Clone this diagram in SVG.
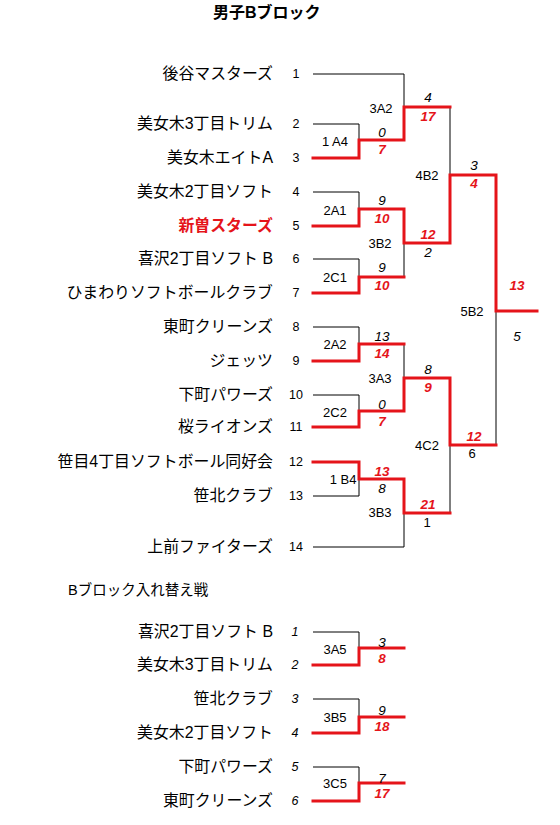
<svg xmlns="http://www.w3.org/2000/svg" width="560" height="825" viewBox="0 0 560 825">
<style>
text{font-family:"Liberation Sans","Noto Sans CJK JP",sans-serif;fill:#000}
.ttl{font-size:16px;font-weight:bold}
.sub{font-size:14.5px}
.nm{font-size:15.9px;text-anchor:end}
.win{fill:#e5141a;font-weight:bold}
.no{font-size:12.5px;text-anchor:middle}
.noi{font-size:12.5px;text-anchor:middle;font-style:italic}
.mt{font-size:13px;text-anchor:middle}
.sc{font-size:13.5px;text-anchor:middle;font-style:italic}
.sr{font-size:13.5px;text-anchor:middle;font-style:italic;font-weight:bold;fill:#e5141a}
.k{fill:none;stroke:#000;stroke-width:1}
.r{fill:none;stroke:#e5141a;stroke-width:3;stroke-linejoin:miter;stroke-linecap:square}
</style>
<rect width="560" height="825" fill="#fff"/>
<text class="ttl" x="213" y="18">男子Bブロック</text>

<g id="connectors">
<path class="k" d="M313,74H404V107M313,124H359V140M313,192H359V209M313,259H359V277M404,243V277M313,327H359V344M404,344V378M313,395H359V411M450,107V175M496,311V445M450,445V513M313,496H359V479M313,547H404V513M313,632H359V648M313,699H359V717M313,767H359V783"/>
<path class="r" d="M313,158H359V140H404V107H450"/>
<path class="r" d="M313,226H359V209H404V243H450V175H496V311H537"/>
<path class="r" d="M313,293H359V277H404"/>
<path class="r" d="M313,361H359V344H404"/>
<path class="r" d="M313,427H359V411H404V378H450V445H496"/>
<path class="r" d="M313,462H359V479H404V513H450"/>
<path class="r" d="M313,665H359V648H404"/>
<path class="r" d="M313,733H359V717H404"/>
<path class="r" d="M313,801H359V783H404"/>
</g>

<g id="team1"><text class="nm" x="273" y="79">後谷マスターズ</text><text class="no" x="296" y="78">1</text></g>
<g id="team2"><text class="nm" x="273" y="129">美女木3丁目トリム</text><text class="no" x="296" y="128">2</text></g>
<g id="team3"><text class="nm" x="273" y="163">美女木エイトA</text><text class="no" x="296" y="162">3</text></g>
<g id="team4"><text class="nm" x="273" y="197">美女木2丁目ソフト</text><text class="no" x="296" y="196">4</text></g>
<g id="team5"><text class="nm win" x="273" y="231">新曽スターズ</text><text class="no" x="296" y="230">5</text></g>
<g id="team6"><text class="nm" x="273" y="264">喜沢2丁目ソフト B</text><text class="no" x="296" y="263">6</text></g>
<g id="team7"><text class="nm" x="273" y="298">ひまわりソフトボールクラブ</text><text class="no" x="296" y="297">7</text></g>
<g id="team8"><text class="nm" x="273" y="332">東町クリーンズ</text><text class="no" x="296" y="331">8</text></g>
<g id="team9"><text class="nm" x="273" y="366">ジェッツ</text><text class="no" x="296" y="365">9</text></g>
<g id="team10"><text class="nm" x="273" y="400">下町パワーズ</text><text class="no" x="296" y="399">10</text></g>
<g id="team11"><text class="nm" x="273" y="432">桜ライオンズ</text><text class="no" x="296" y="431">11</text></g>
<g id="team12"><text class="nm" x="273" y="467">笹目4丁目ソフトボール同好会</text><text class="no" x="296" y="466">12</text></g>
<g id="team13"><text class="nm" x="273" y="501">笹北クラブ</text><text class="no" x="296" y="500">13</text></g>
<g id="team14"><text class="nm" x="273" y="552">上前ファイターズ</text><text class="no" x="296" y="551">14</text></g>

<g id="m1A4"><text class="mt" x="335" y="146">1 A4</text><text class="sc" x="382" y="137">0</text><text class="sr" x="382" y="154">7</text></g>
<g id="m3A2"><text class="mt" x="381" y="113">3A2</text><text class="sc" x="428" y="102">4</text><text class="sr" x="428" y="121">17</text></g>
<g id="m2A1"><text class="mt" x="335" y="215">2A1</text><text class="sc" x="382" y="205">9</text><text class="sr" x="382" y="223">10</text></g>
<g id="m2C1"><text class="mt" x="335" y="282">2C1</text><text class="sc" x="382" y="272">9</text><text class="sr" x="382" y="290">10</text></g>
<g id="m3B2"><text class="mt" x="380" y="248">3B2</text><text class="sr" x="428" y="239">12</text><text class="sc" x="428" y="257">2</text></g>
<g id="m4B2"><text class="mt" x="427" y="180">4B2</text><text class="sc" x="474" y="170">3</text><text class="sr" x="474" y="188">4</text></g>
<g id="m2A2"><text class="mt" x="335" y="349">2A2</text><text class="sc" x="382" y="341">13</text><text class="sr" x="382" y="358">14</text></g>
<g id="m2C2"><text class="mt" x="335" y="417">2C2</text><text class="sc" x="382" y="409">0</text><text class="sr" x="382" y="426">7</text></g>
<g id="m3A3"><text class="mt" x="380" y="383">3A3</text><text class="sc" x="428" y="374">8</text><text class="sr" x="428" y="392">9</text></g>
<g id="m1B4"><text class="mt" x="343" y="484">1 B4</text><text class="sr" x="382" y="476">13</text><text class="sc" x="382" y="493">8</text></g>
<g id="m3B3"><text class="mt" x="380" y="517">3B3</text><text class="sr" x="428" y="509">21</text><text class="mt" x="427" y="527">1</text></g>
<g id="m4C2"><text class="mt" x="427" y="450">4C2</text><text class="sr" x="474" y="441">12</text><text class="mt" x="472" y="458">6</text></g>
<g id="m5B2"><text class="mt" x="472" y="316">5B2</text><text class="sr" x="517" y="290">13</text><text class="sc" x="517" y="341">5</text></g>

<text class="sub" x="68" y="595">Bブロック入れ替え戦</text>

<g id="cteam1"><text class="nm" x="273" y="637">喜沢2丁目ソフト B</text><text class="noi" x="295" y="636">1</text></g>
<g id="cteam2"><text class="nm" x="273" y="670">美女木3丁目トリム</text><text class="noi" x="295" y="669">2</text></g>
<g id="cteam3"><text class="nm" x="273" y="704">笹北クラブ</text><text class="noi" x="295" y="703">3</text></g>
<g id="cteam4"><text class="nm" x="273" y="738">美女木2丁目ソフト</text><text class="noi" x="295" y="737">4</text></g>
<g id="cteam5"><text class="nm" x="273" y="772">下町パワーズ</text><text class="noi" x="295" y="771">5</text></g>
<g id="cteam6"><text class="nm" x="273" y="806">東町クリーンズ</text><text class="noi" x="295" y="805">6</text></g>

<g id="m3A5"><text class="mt" x="335" y="654">3A5</text><text class="sc" x="382" y="647">3</text><text class="sr" x="382" y="663">8</text></g>
<g id="m3B5"><text class="mt" x="335" y="722">3B5</text><text class="sc" x="382" y="715">9</text><text class="sr" x="382" y="731">18</text></g>
<g id="m3C5"><text class="mt" x="335" y="788">3C5</text><text class="sc" x="382" y="783">7</text><text class="sr" x="382" y="798">17</text></g>
</svg>
